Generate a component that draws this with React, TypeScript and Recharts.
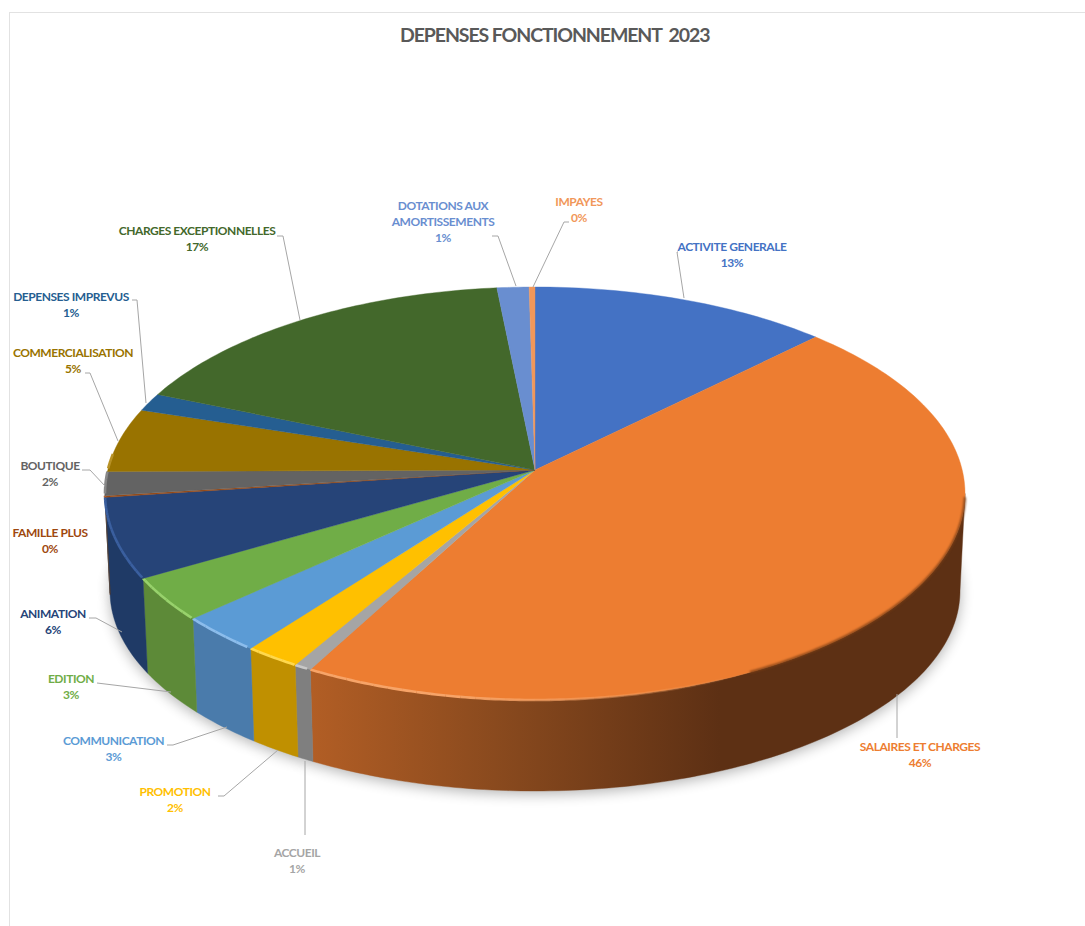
import React from "react";
import { PieChart, Pie } from "recharts";

// ---- data ----
const categories = [
  "ACTIVITE GENERALE", "SALAIRES ET CHARGES", "ACCUEIL", "PROMOTION", "COMMUNICATION",
  "EDITION", "ANIMATION", "FAMILLE PLUS", "BOUTIQUE", "COMMERCIALISATION",
  "DEPENSES IMPREVUS", "CHARGES EXCEPTIONNELLES", "DOTATIONS AUX AMORTISSEMENTS", "IMPAYES",
];
const shares = [13.4, 45.55, 0.65, 2.0, 2.9, 3.2, 5.5, 0.1, 1.6, 4.55, 1.3, 17.49, 1.49, 0.27];
const topColors = [
  "#4472c4", "#ed7d31", "#a5a5a5", "#ffc000", "#5b9bd5", "#70ad47", "#264478",
  "#9e480e", "#636363", "#997300", "#255e91", "#43682b", "#698ed0", "#f1975a",
];
const sideColors = [
  "#2d4d85", "url(#orangeSide)", "#7f7f7f", "#c09000", "#4a7bab", "#5d8a38", "#1f3a66",
  "#6a300a", "#4a4a4a", "#735600", "#1b466d", "#324e20", "#4f6b9c", "#b57144",
];
const rimColors = [
  "#7d9bd6", "#f7a468", "#c8c8c8", "#ffd84d", "#8cbdec", "#98d26c", "#3a5f9f",
  "#b9622a", "#888888", "#b89226", "#3a79b0", "#5c8540", "#8eaae0", "#f7b78a",
];

const chartData = categories.map((name, i) => ({ name, value: shares[i], index: i }));

// ---- presentation geometry ----
const W = 1085;
const H = 926;
const APEX = { x: 535, y: 470 };
const TOP = { cx: 535, cy: 493.5, rx: 430, ry: 206.5 };
const BOTTOM = { cx: 535, cy: 591, rx: 425, ry: 200 };
const TILT_BACK = 0.53;
const TILT_FRONT = 0.56;
const FONT = "Lato, 'Open Sans', sans-serif";

type LabelSpot = { x: number; y: number; line?: number[][] };
const labelSpots: Record<string, LabelSpot> = {
  "ACTIVITE GENERALE": { x: 732, y: 251, line: [[678, 252], [677, 252], [684, 298]] },
  "SALAIRES ET CHARGES": { x: 920, y: 751, line: [[897, 738], [897, 694]] },
  ACCUEIL: { x: 297, y: 857, line: [[305, 835], [305, 761]] },
  PROMOTION: { x: 175, y: 796, line: [[218, 796], [224, 796], [278, 750]] },
  COMMUNICATION: { x: 113.5, y: 745, line: [[167, 745], [173, 745], [227, 727]] },
  EDITION: { x: 71, y: 683, line: [[97, 683], [171, 692]] },
  ANIMATION: { x: 53, y: 618, line: [[89, 618], [96, 618], [122, 632]] },
  "FAMILLE PLUS": { x: 50, y: 537 },
  BOUTIQUE: { x: 50, y: 470, line: [[82, 470], [90, 470], [105, 486]] },
  COMMERCIALISATION: { x: 73, y: 357, line: [[85, 373], [90, 373], [118, 441]] },
  "DEPENSES IMPREVUS": { x: 71, y: 301, line: [[132, 300], [137, 300], [146, 403]] },
  "CHARGES EXCEPTIONNELLES": { x: 197, y: 235, line: [[277, 236], [283, 236], [300, 320]] },
  "DOTATIONS AUX AMORTISSEMENTS": { x: 443, y: 210, line: [[492, 236], [498, 236], [516, 286]] },
  IMPAYES: { x: 579, y: 206, line: [[569, 222], [564, 222], [533, 287]] },
};
const labelWraps: Record<string, string[]> = {
  "DOTATIONS AUX AMORTISSEMENTS": ["DOTATIONS AUX", "AMORTISSEMENTS"],
};

const rad = (d: number) => (d * Math.PI) / 180;

// Pie angle (clockwise from top) -> position parameter on the tilted rim ellipse.
function rimParam(theta: number): number {
  const tilt = theta > 90 && theta < 270 ? TILT_FRONT : TILT_BACK;
  const dx = Math.sin(rad(theta));
  const dy = -tilt * Math.cos(rad(theta));
  const ox = (APEX.x - TOP.cx) / TOP.rx;
  const oy = (APEX.y - TOP.cy) / TOP.ry;
  const ux = dx / TOP.rx;
  const uy = dy / TOP.ry;
  const a = ux * ux + uy * uy;
  const b = 2 * (ox * ux + oy * uy);
  const c = ox * ox + oy * oy - 1;
  const s = (-b + Math.sqrt(b * b - 4 * a * c)) / (2 * a);
  const px = ox + s * ux;
  const py = oy + s * uy;
  let t = (Math.atan2(px, -py) * 180) / Math.PI;
  if (t < 0) t += 360;
  return t;
}
const onEllipse = (e: typeof TOP, t: number) => ({
  x: e.cx + e.rx * Math.sin(rad(t)),
  y: e.cy - e.ry * Math.cos(rad(t)),
});
function sampleArc(e: typeof TOP, from: number, to: number) {
  const n = Math.max(2, Math.ceil(Math.abs(to - from)) + 1);
  const pts: { x: number; y: number }[] = [];
  for (let i = 0; i <= n; i++) pts.push(onEllipse(e, from + ((to - from) * i) / n));
  return pts;
}
const toPath = (pts: { x: number; y: number }[]) =>
  pts.map((p, i) => `${i ? "L" : "M"}${p.x.toFixed(2)} ${p.y.toFixed(2)}`).join("");

function sweep(props: any) {
  const a = 90 - props.startAngle;
  const b = 90 - props.endAngle;
  const from = rimParam(((a % 360) + 360) % 360);
  let to = rimParam(((b % 360) + 360) % 360);
  if (to <= from) to += 360;
  return { from, to };
}

function ShadowShape(props: any) {
  const { from, to } = sweep(props);
  const lo = Math.max(from, 70);
  const hi = Math.min(to, 290);
  if (hi <= lo) return <g />;
  const pts = sampleArc(BOTTOM, lo, hi);
  return (
    <path
      d={`M${BOTTOM.cx} ${BOTTOM.cy}L${toPath(pts).slice(1)}Z`}
      fill="#000"
      opacity={0.3}
      style={{ filter: "blur(7px)" }}
      transform="translate(0 3)"
    />
  );
}

function WallShape(props: any) {
  const i = props.payload?.index ?? props.index;
  const { from, to } = sweep(props);
  const lo = Math.max(from, 90);
  const hi = Math.min(to, 270);
  if (hi <= lo) return <g />;
  const top = sampleArc(TOP, lo, hi);
  const bottom = sampleArc(BOTTOM, lo, hi).reverse();
  const fill = sideColors[i];
  return <path d={`${toPath(top)}L${toPath(bottom).slice(1)}Z`} fill={fill} stroke={fill} strokeWidth={0.4} />;
}

function TopShape(props: any) {
  const i = props.payload?.index ?? props.index;
  const { from, to } = sweep(props);
  const pts = sampleArc(TOP, from, to);
  const fill = topColors[i];
  const bevels: React.ReactNode[] = [];
  // soft rim highlight along the front edge, dark edge towards the right
  for (let t = Math.ceil(Math.max(from, 120)); t < Math.min(to, 280); t += 2) {
    const seg = sampleArc(TOP, t, Math.min(t + 2, to));
    const strength = Math.min(1, (t - 150) / 40);
    if (strength > 0) {
      bevels.push(
        <path key={t} d={toPath(seg)} fill="none" stroke={rimColors[i]} strokeWidth={2.6} opacity={strength} />
      );
    }
  }
  const darkLo = Math.max(from, 91);
  const darkHi = Math.min(to, 150);
  return (
    <g>
      <path d={`M${APEX.x} ${APEX.y}L${toPath(pts).slice(1)}Z`} fill={fill} stroke={fill} strokeWidth={0.4} />
      {darkHi > darkLo && (
        <path
          d={toPath(sampleArc(TOP, darkLo, darkHi))}
          fill="none"
          stroke="#7a3d14"
          strokeWidth={2}
          style={{ filter: "blur(1px)" }}
        />
      )}
      {bevels}
    </g>
  );
}

function renderLabel(props: any) {
  const i = props.payload?.index ?? props.index;
  const name = categories[i];
  const spot = labelSpots[name];
  const lines = labelWraps[name] ?? [name];
  const pct = `${Math.round((shares[i] / shares.reduce((a, b) => a + b, 0)) * 100)}%`;
  const all = [...lines, pct];
  return (
    <g key={name}>
      {spot.line && (
        <polyline
          points={spot.line.map((p) => p.join(",")).join(" ")}
          fill="none"
          stroke="#a6a6a6"
          strokeWidth={1}
        />
      )}
      <text
        x={spot.x}
        y={spot.y}
        textAnchor="middle"
        fontFamily={FONT}
        fontWeight={700}
        fontSize={12}
        letterSpacing={-0.45}
        fill={topColors[i]}
      >
        {all.map((t, k) => (
          <tspan key={k} x={spot.x} dy={k ? 16 : 0}>
            {t}
          </tspan>
        ))}
      </text>
    </g>
  );
}

export default function App() {
  const common = {
    data: chartData,
    dataKey: "value",
    nameKey: "name",
    cx: APEX.x,
    cy: APEX.y,
    outerRadius: TOP.rx,
    startAngle: 90,
    endAngle: -270,
    paddingAngle: 0,
    isAnimationActive: false,
    stroke: "none",
  };
  return (
    <div style={{ position: "fixed", left: 0, top: 0, width: W, height: H, background: "#fff", overflow: "hidden" }}>
      <div style={{ position: "absolute", left: 9, top: 12, right: 0, height: 1, background: "#e2e2e2" }} />
      <div style={{ position: "absolute", left: 9, top: 12, bottom: 0, width: 1, background: "#e2e2e2" }} />
      <div
        style={{
          position: "absolute",
          left: 400,
          top: 23,
          fontFamily: FONT,
          fontWeight: 700,
          fontSize: 19.5,
          letterSpacing: -1.1,
          whiteSpace: "pre",
          color: "#595959",
        }}
      >
        DEPENSES FONCTIONNEMENT  2023
      </div>
      <div style={{ position: "absolute", left: 0, top: 0 }}>
        <PieChart width={W} height={H} margin={{ top: 0, right: 0, bottom: 0, left: 0 }}>
          <defs>
            <linearGradient id="orangeSide" gradientUnits="userSpaceOnUse" x1={310} y1={0} x2={720} y2={0}>
              <stop offset="0%" stopColor="#b25e25" />
              <stop offset="45%" stopColor="#8a4a1e" />
              <stop offset="100%" stopColor="#5d3014" />
            </linearGradient>
          </defs>
          <Pie {...common} shape={ShadowShape} />
          <Pie {...common} shape={WallShape} />
          <Pie {...common} shape={TopShape} label={renderLabel} labelLine={false} />
        </PieChart>
      </div>
    </div>
  );
}
